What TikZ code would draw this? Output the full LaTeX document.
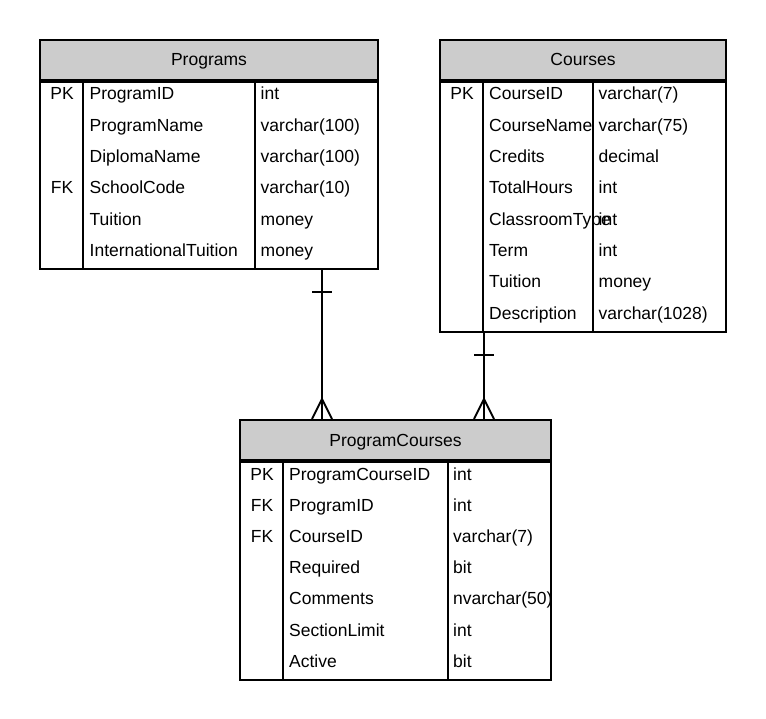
\documentclass[tikz,border=0pt]{standalone}
\usepackage{fontspec}
\setmainfont{Liberation Sans}
\usepackage{xcolor}
\usetikzlibrary{positioning}

\definecolor{headgray}{RGB}{204,204,204}

\tikzset{
    erline/.style={line width=2pt},
    tablehead/.style={draw, erline, fill=headgray, inner sep=0pt, text height=12.5pt, text depth=0.5pt},
    tablebody/.style={draw, erline, inner sep=0pt, anchor=north},
    keytext/.style={anchor=base, inner sep=0pt},
    coltext/.style={anchor=base west, inner sep=0pt}
}

\begin{document}
\begin{tikzpicture}[x=1pt, y=-1pt, font=\fontsize{17.5}{20}\selectfont]
    \useasboundingbox (0, 0) rectangle (766, 719);

    % Programs
    \node[tablehead, minimum width=338pt, minimum height=40pt] (prog) at (209, 60) {Programs};
    \node[tablebody, minimum width=338pt, minimum height=187pt] (progbody) at (prog.south) {};
    \draw[erline]
        ([xshift=44pt]progbody.north west) -- ([xshift=44pt]progbody.south west)
        ([xshift=216pt]progbody.north west) -- ([xshift=216pt]progbody.south west);
    \foreach \k/\n/\t [count=\i from 0] in {PK/ProgramID/int, {}/ProgramName/varchar(100),
        {}/DiplomaName/varchar(100), FK/SchoolCode/varchar(10), {}/Tuition/money,
        {}/InternationalTuition/money}
    {
        \node[keytext] (prog-key-\i) at (62, 100+31.3*\i) {\k};
        \node[coltext] (prog-name-\i) at (89.5, 100+31.3*\i) {\n};
        \node[coltext] (prog-type-\i) at (260.5, 100+31.3*\i) {\t};
    }

    % Courses
    \node[tablehead, minimum width=286pt, minimum height=40pt] (course) at (583, 60) {Courses};
    \node[tablebody, minimum width=286pt, minimum height=250pt] (coursebody) at (course.south) {};
    \draw[erline]
        ([xshift=44pt]coursebody.north west) -- ([xshift=44pt]coursebody.south west)
        ([xshift=154pt]coursebody.north west) -- ([xshift=154pt]coursebody.south west);
    \foreach \k/\n/\t [count=\i from 0] in {PK/CourseID/varchar(7), {}/CourseName/varchar(75),
        {}/Credits/decimal, {}/TotalHours/int, {}/ClassroomType/int, {}/Term/int,
        {}/Tuition/money, {}/Description/varchar(1028)}
    {
        \node[keytext] (course-key-\i) at (462, 100+31.3*\i) {\k};
        \node[coltext] (course-name-\i) at (489, 100+31.3*\i) {\n};
        \node[coltext] (course-type-\i) at (598.5, 100+31.3*\i) {\t};
    }

    % ProgramCourses
    \node[tablehead, minimum width=311pt, minimum height=40pt] (pc) at (395.5, 440) {ProgramCourses};
    \node[tablebody, minimum width=311pt, minimum height=218pt] (pcbody) at (pc.south) {};
    \draw[erline]
        ([xshift=44pt]pcbody.north west) -- ([xshift=44pt]pcbody.south west)
        ([xshift=209pt]pcbody.north west) -- ([xshift=209pt]pcbody.south west);
    \foreach \k/\n/\t [count=\i from 0] in {PK/ProgramCourseID/int, FK/ProgramID/int,
        FK/CourseID/varchar(7), {}/Required/bit, {}/Comments/nvarchar(50),
        {}/SectionLimit/int, {}/Active/bit}
    {
        \node[keytext] (pc-key-\i) at (262, 480+31.2*\i) {\k};
        \node[coltext] (pc-name-\i) at (289, 480+31.2*\i) {\n};
        \node[coltext] (pc-type-\i) at (453, 480+31.2*\i) {\t};
    }

    % relationships
    \coordinate (progone) at ([xshift=283pt]progbody.south west);
    \coordinate (pcmany1) at ([xshift=83pt]pc.north west);
    \coordinate (courseone) at ([xshift=45pt]coursebody.south west);
    \coordinate (pcmany2) at ([xshift=245pt]pc.north west);

    \draw[erline] (progone) -- (pcmany1);
    \draw[erline] ([yshift=-22pt]progone) ++(-10, 0) -- ++(20, 0);
    \draw[erline] ([yshift=20pt]pcmany1) -- ++(-10, 20)
                  ([yshift=20pt]pcmany1) -- ++(10, 20);

    \draw[erline] (courseone) -- (pcmany2);
    \draw[erline] ([yshift=-22pt]courseone) ++(-10, 0) -- ++(20, 0);
    \draw[erline] ([yshift=20pt]pcmany2) -- ++(-10, 20)
                  ([yshift=20pt]pcmany2) -- ++(10, 20);
\end{tikzpicture}
\end{document}
